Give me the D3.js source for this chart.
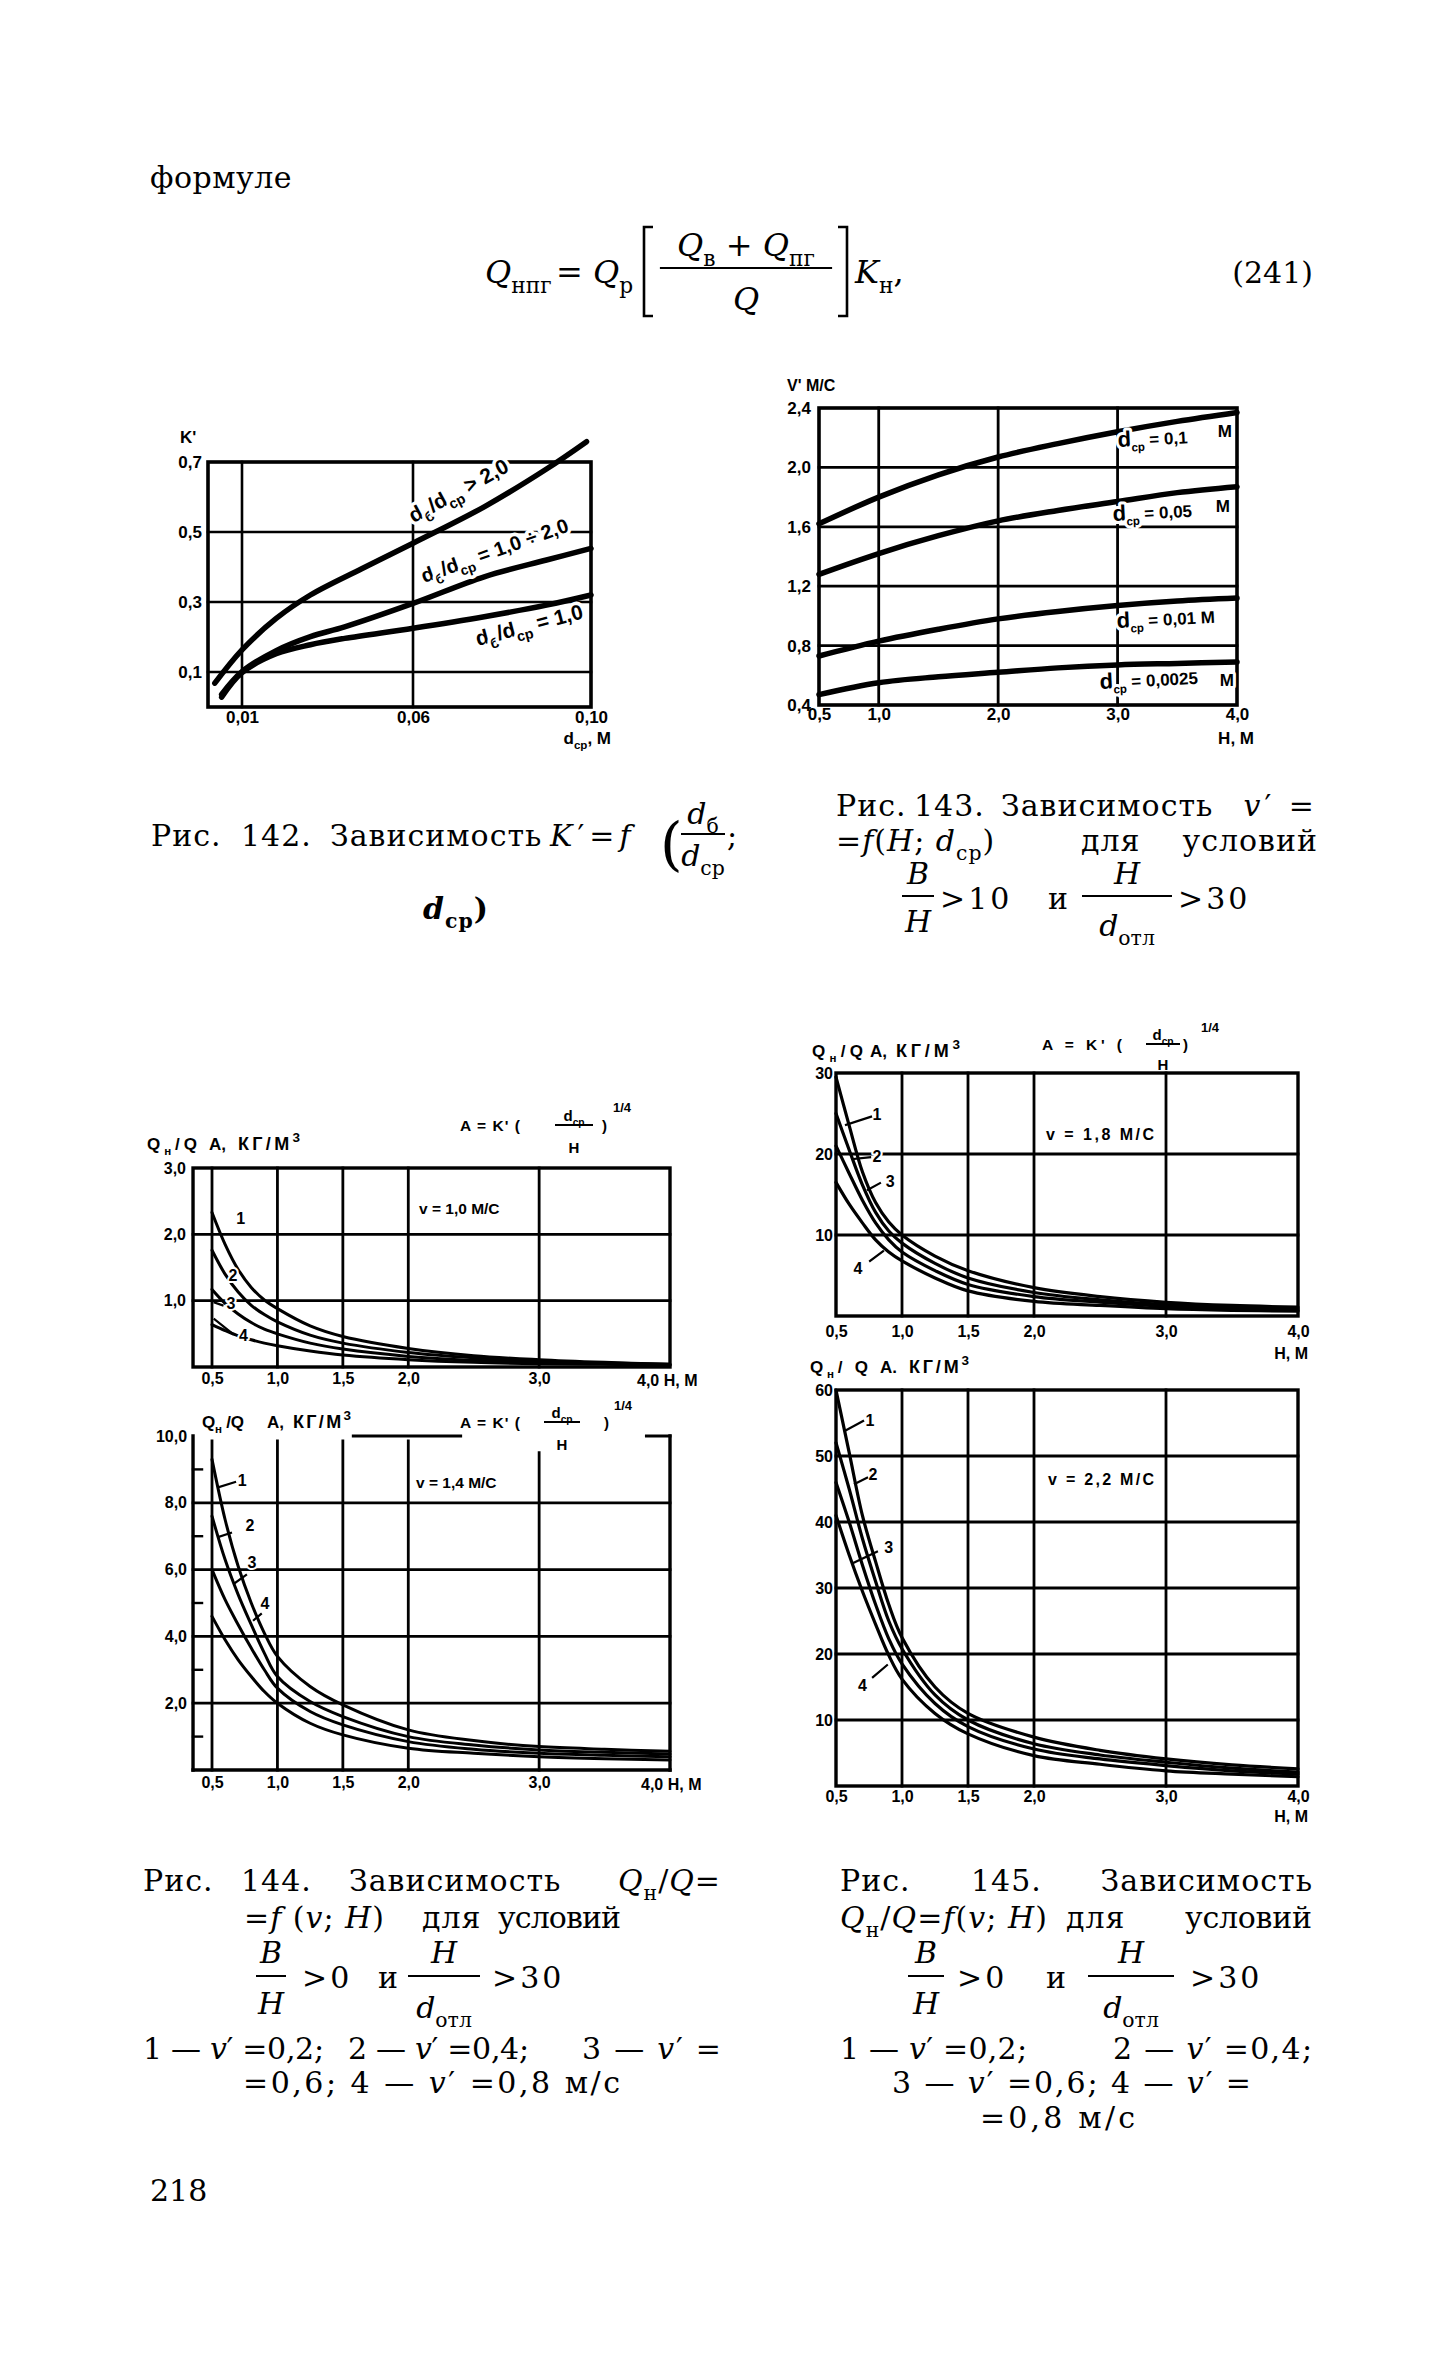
<!DOCTYPE html>
<html><head><meta charset="utf-8">
<script src="https://cdn.jsdelivr.net/npm/d3@7"></script>
<style>body{margin:0;background:#fff;} svg{display:block;}</style>
</head><body>
<script>
// ================= DATA =================
// Fig.142  K' = f(d_б/d_ср; d_ср)
const f142Xa = [0.002, 0.01, 0.02, 0.03, 0.045, 0.06, 0.076, 0.09, 0.099];
const f142Xb = [0.004, 0.01, 0.02, 0.03, 0.04, 0.06, 0.076, 0.09, 0.10];
const f142K1 = [0.068, 0.163, 0.253, 0.320, 0.395, 0.468, 0.572, 0.680, 0.758]; // dб/dср > 2,0
const f142K2 = [0.036, 0.101, 0.161, 0.201, 0.229, 0.296, 0.372, 0.420, 0.453]; // 1,0 ÷ 2,0
const f142K3 = [0.028, 0.098, 0.152, 0.178, 0.196, 0.225, 0.258, 0.291, 0.320]; // = 1,0
const f142YTicks = [0.1, 0.3, 0.5, 0.7];
const f142YLabels = ['0,1', '0,3', '0,5', '0,7'];
const f142XTicks = [0.01, 0.06, 0.10];
const f142XLabels = ['0,01', '0,06', '0,10'];

// Fig.143  v' = f(H; d_ср)
const f143H = [0.5, 1.0, 1.5, 2.0, 2.5, 3.0, 3.5, 4.0];
const f143V0100 = [1.62, 1.80, 1.95, 2.07, 2.16, 2.24, 2.31, 2.37];
const f143V0050 = [1.28, 1.42, 1.54, 1.64, 1.71, 1.77, 1.83, 1.87];
const f143V0010 = [0.73, 0.83, 0.91, 0.98, 1.03, 1.07, 1.10, 1.12];
const f143V0025 = [0.47, 0.55, 0.59, 0.62, 0.65, 0.67, 0.68, 0.69];
const f143YTicks = [0.4, 0.8, 1.2, 1.6, 2.0, 2.4];
const f143YLabels = ['0,4', '0,8', '1,2', '1,6', '2,0', '2,4'];
const f143XTicks = [0.5, 1, 2, 3, 4];
const f143XLabels = ['0,5', '1,0', '2,0', '3,0', '4,0'];

// Fig.144 / 145  Qн/Q = f(v; H), curves 1..4 (v' = 0,2; 0,4; 0,6; 0,8)
const qH = [0.5, 0.6, 0.7, 0.8, 0.9, 1.0, 1.25, 1.5, 2.0, 2.5, 3.0, 3.5, 4.0];
const f144a1 = [2.33, 1.85, 1.47, 1.20, 1.01, 0.88, 0.62, 0.46, 0.28, 0.17, 0.11, 0.07, 0.04];
const f144a2 = [1.76, 1.40, 1.13, 0.93, 0.79, 0.68, 0.48, 0.36, 0.22, 0.14, 0.09, 0.06, 0.04];
const f144a3 = [1.17, 0.96, 0.80, 0.67, 0.57, 0.50, 0.36, 0.27, 0.16, 0.10, 0.07, 0.05, 0.03];
const f144a4 = [0.64, 0.55, 0.47, 0.41, 0.36, 0.32, 0.24, 0.18, 0.11, 0.07, 0.05, 0.04, 0.02];
const f144b1 = [9.3, 7.5, 6.1, 5.0, 4.1, 3.4, 2.5, 1.95, 1.2, 0.88, 0.7, 0.62, 0.56];
const f144b2 = [7.6, 6.3, 5.25, 4.35, 3.5, 2.8, 2.05, 1.6, 1.0, 0.75, 0.6, 0.53, 0.48];
const f144b3 = [6.0, 5.1, 4.35, 3.65, 3.0, 2.45, 1.75, 1.35, 0.85, 0.62, 0.5, 0.44, 0.4];
const f144b4 = [4.6, 3.9, 3.3, 2.8, 2.35, 2.0, 1.4, 1.05, 0.65, 0.5, 0.4, 0.34, 0.3];
const f145a1 = [29.5, 23.5, 17.8, 14.0, 11.6, 10.0, 7.4, 5.6, 3.5, 2.4, 1.7, 1.3, 1.1];
const f145a2 = [25.0, 20.5, 16.2, 12.8, 10.5, 9.0, 6.5, 4.7, 2.9, 2.0, 1.4, 1.1, 0.9];
const f145a3 = [21.0, 17.6, 14.3, 11.5, 9.4, 7.9, 5.6, 3.9, 2.4, 1.7, 1.2, 0.9, 0.7];
const f145a4 = [16.5, 13.8, 11.5, 9.4, 7.9, 6.8, 4.7, 3.1, 1.8, 1.3, 0.9, 0.7, 0.6];
const f145b1 = [60.0, 50.5, 41.0, 34.0, 27.5, 22.5, 15.0, 11.0, 7.4, 5.4, 4.1, 3.2, 2.6];
const f145b2 = [52.0, 45.0, 37.5, 31.0, 25.0, 20.8, 13.8, 10.0, 6.4, 4.7, 3.6, 2.7, 2.1];
const f145b3 = [46.0, 40.0, 33.5, 27.5, 22.3, 18.5, 12.5, 9.0, 5.6, 4.1, 3.1, 2.3, 1.8];
const f145b4 = [41.0, 35.0, 29.5, 24.5, 19.8, 16.2, 11.0, 7.9, 4.6, 3.3, 2.3, 1.8, 1.4];
const hTicks = [0.5, 1.0, 1.5, 2.0, 3.0, 4.0];
const hLabels = ['0,5', '1,0', '1,5', '2,0', '3,0', '4,0'];
const f144aYTicks = [1, 2, 3];   const f144aYLabels = ['1,0', '2,0', '3,0'];
const f144bYTicks = [2, 4, 6, 8, 10]; const f144bYLabels = ['2,0', '4,0', '6,0', '8,0', '10,0'];
const f144bMinor = [1, 3, 5, 7, 9];
const f145aYTicks = [10, 20, 30]; const f145aYLabels = ['10', '20', '30'];
const f145bYTicks = [10, 20, 30, 40, 50, 60]; const f145bYLabels = ['10', '20', '30', '40', '50', '60'];

// ================= HELPERS =================
const SANS = "'Liberation Sans', Arial, sans-serif";
const SERIF = "'DejaVu Serif', 'Liberation Serif', serif";
const svg = d3.select('body').append('svg').attr('width', 1452).attr('height', 2362)
  .style('background', '#fff');
svg.append('rect').attr('width', 1452).attr('height', 2362).attr('fill', '#fff');
const SMOOTH = d3.curveCatmullRom.alpha(0.5);

function rich(parent, x, y, parts, o = {}) {
  const size = o.size || 29;
  const t = parent.append('text').attr('x', x).attr('y', y)
    .attr('font-family', o.font || SERIF).attr('font-size', size)
    .attr('text-anchor', o.anchor || 'start').attr('fill', '#000')
    .attr('xml:space', 'preserve').style('white-space', 'pre');
  if (o.bold) t.attr('font-weight', 'bold');
  if (o.italic) t.attr('font-style', 'italic');
  if (o.ls) t.attr('letter-spacing', o.ls);
  if (o.len) t.attr('textLength', o.len).attr('lengthAdjust', 'spacing');
  if (o.halo) t.attr('stroke', '#fff').attr('stroke-width', o.halo)
    .attr('paint-order', 'stroke').attr('stroke-linejoin', 'round');
  if (o.rotate) t.attr('transform', `rotate(${o.rotate},${x},${y})`);
  let shift = 0;
  parts.forEach(p => {
    if (typeof p === 'string') p = { t: p };
    const s = p.sub ? size * 0.3 : (p.sup ? -size * 0.42 : 0);
    const ts = t.append('tspan').text(p.t).attr('dy', s - shift);
    shift = s;
    if (p.sub || p.sup) ts.attr('font-size', size * (p.scale || 0.68));
    if (p.size) ts.attr('font-size', p.size);
    if (p.i) ts.attr('font-style', 'italic');
    if (p.n) ts.attr('font-style', 'normal');
    if (p.b) ts.attr('font-weight', 'bold');
  });
  return t;
}
function seg(parent, x1, y1, x2, y2, w) {
  parent.append('line').attr('x1', x1).attr('y1', y1).attr('x2', x2).attr('y2', y2)
    .attr('stroke', '#000').attr('stroke-width', w).attr('stroke-linecap', 'square');
}
function boxRect(parent, x1, y1, x2, y2, w) {
  parent.append('rect').attr('x', x1).attr('y', y1).attr('width', x2 - x1).attr('height', y2 - y1)
    .attr('fill', 'none').attr('stroke', '#000').attr('stroke-width', w);
}
function curve(parent, x, y, xs, ys, w, c) {
  const ln = d3.line().x((d, i) => x(xs[i])).y(d => y(d)).curve(c || SMOOTH);
  parent.append('path').attr('d', ln(ys)).attr('fill', 'none').attr('stroke', '#000')
    .attr('stroke-width', w).attr('stroke-linejoin', 'round').attr('stroke-linecap', 'round');
}
function styleAxis(ag, size) {
  ag.select('.domain').remove();
  ag.selectAll('text').attr('font-family', SANS).attr('font-size', size)
    .attr('font-weight', 'bold').attr('fill', '#000');
}
function yLabels(parent, y, xPix, vals, labels, size, pad) {
  const a = d3.axisLeft(y).tickValues(vals).tickFormat((d, i) => labels[i]).tickSize(0).tickPadding(pad);
  styleAxis(parent.append('g').attr('transform', `translate(${xPix},0)`).call(a), size);
}
function xLabels(parent, x, yPix, vals, labels, size, pad) {
  const a = d3.axisBottom(x).tickValues(vals).tickFormat((d, i) => labels[i]).tickSize(0).tickPadding(pad);
  styleAxis(parent.append('g').attr('transform', `translate(0,${yPix})`).call(a), size);
}
function frac(parent, cx, yl, num, den, o) {
  const oo = Object.assign({}, o, { anchor: 'middle' });
  delete oo.len; delete oo.ls;
  rich(parent, cx, yl - o.up, num, oo);
  rich(parent, cx, yl + o.down, den, oo);
  seg(parent, cx - o.w / 2, yl, cx + o.w / 2, yl, o.lw || 2);
}
const LAB = { font: SANS, bold: 1, size: 16 };
const L = (extra) => Object.assign({}, LAB, extra || {});
// axis title "Qн/Q  A, КГ/М³" in three pieces
function yTitle(g, y, p1, x1, len1, p2, x2, x3, len3) {
  rich(g, x1, y, ['Q', { t: 'н', sub: 1 }, p1], L({ size: 17, len: len1 }));
  rich(g, x2, y, [p2], L({ size: 17 }));
  rich(g, x3, y, ['КГ/М', { t: '3', sup: 1, scale: 0.75 }], L({ size: 18, len: len3 }));
}

// ================= PAGE TEXT =================
const page = svg.append('g');
rich(page, 150, 188, ['формуле'], { size: 30, ls: 0.5 });
rich(page, 485, 283, [{ t: 'Q', i: 1 }, { t: 'нпг', sub: 1 }], { size: 32 });
rich(page, 556, 283, ['= ', { t: 'Q', i: 1 }, { t: 'р', sub: 1 }], { size: 32 });
page.append('path').attr('d', 'M653,227 H644 V316 H653').attr('fill', 'none').attr('stroke', '#000').attr('stroke-width', 2.6);
page.append('path').attr('d', 'M838,227 H847 V316 H838').attr('fill', 'none').attr('stroke', '#000').attr('stroke-width', 2.6);
frac(page, 746, 268, [{ t: 'Q', i: 1 }, { t: 'в', sub: 1 }, ' + ', { t: 'Q', i: 1 }, { t: 'пг', sub: 1 }],
  [{ t: 'Q', i: 1 }], { size: 32, up: 12, down: 42, w: 170, lw: 2.2 });
rich(page, 855, 283, [{ t: 'K', i: 1 }, { t: 'н', sub: 1 }, ','], { size: 32 });
rich(page, 1313, 283, ['(241)'], { size: 30, anchor: 'end' });
rich(page, 150, 2201, ['218'], { size: 30 });

// ================= FIG 142 =================
const g142 = svg.append('g');
const x142 = d3.scaleLinear().domain([0, 0.01, 0.06, 0.10]).range([208, 242, 413, 591]);
const y142 = d3.scaleLinear().domain([0, 0.7]).range([707, 462]);
[0.1, 0.3, 0.5].forEach(v => seg(g142, x142(0), y142(v), x142(0.1), y142(v), 2.6));
[0.01, 0.06].forEach(v => seg(g142, x142(v), y142(0.7), x142(v), y142(0), 2.6));
boxRect(g142, x142(0), y142(0.7), x142(0.1), y142(0), 3.6);
const lab142 = svg.append('g');
rich(lab142, 462, 497, [{ t: 'd' }, { t: 'б', sub: 1 }, { t: '/d' }, { t: 'ср', sub: 1 }, ' > 2,0'],
  { font: SANS, bold: 1, size: 21, anchor: 'middle', rotate: -28.5, halo: 7 });
rich(lab142, 497, 557, [{ t: 'd' }, { t: 'б', sub: 1 }, { t: '/d' }, { t: 'ср', sub: 1 }, ' = 1,0 ÷ 2,0'],
  { font: SANS, bold: 1, size: 20, anchor: 'middle', rotate: -19.6, halo: 7 });
rich(lab142, 531, 632, [{ t: 'd' }, { t: 'б', sub: 1 }, { t: '/d' }, { t: 'ср', sub: 1 }, ' = 1,0'],
  { font: SANS, bold: 1, size: 21, anchor: 'middle', rotate: -14.7, halo: 7 });
curve(g142, x142, y142, f142Xa, f142K1, 5.5);
curve(g142, x142, y142, f142Xb, f142K2, 5.5);
curve(g142, x142, y142, f142Xb, f142K3, 5.5);
yLabels(g142, y142, x142(0), f142YTicks, f142YLabels, 17, 6);
xLabels(g142, x142, y142(0), f142XTicks, f142XLabels, 17, 4);
rich(g142, 180, 443, ["K'"], { font: SANS, bold: 1, size: 17 });
rich(g142, 611, 744, [{ t: 'd' }, { t: 'ср', sub: 1 }, ', М'], { font: SANS, bold: 1, size: 17, anchor: 'end' });

// ================= FIG 143 =================
const g143 = svg.append('g');
const x143 = d3.scaleLinear().domain([0.5, 4.0]).range([819, 1237]);
const y143 = d3.scaleLinear().domain([0.4, 2.4]).range([705, 408]);
[0.8, 1.2, 1.6, 2.0].forEach(v => seg(g143, x143(0.5), y143(v), x143(4), y143(v), 2.8));
[1, 2, 3].forEach(v => seg(g143, x143(v), y143(2.4), x143(v), y143(0.4), 2.8));
boxRect(g143, x143(0.5), y143(2.4), x143(4), y143(0.4), 3.6);
const lab143 = svg.append('g');
const l143 = (x, y, num) => {
  rich(lab143, x, y, [{ t: 'd', size: 22 }, { t: 'ср', sub: 1 }, ' = ' + num], { font: SANS, bold: 1, size: 17, halo: 6, rotate: -3 });
};
l143(1118, 447, '0,1'); rich(lab143, 1232, 437, ['М'], { font: SANS, bold: 1, size: 17, anchor: 'end', halo: 6 });
l143(1113, 521, '0,05'); rich(lab143, 1230, 512, ['М'], { font: SANS, bold: 1, size: 17, anchor: 'end', halo: 6 });
l143(1117, 628, '0,01 М');
l143(1100, 689, '0,0025'); rich(lab143, 1234, 686, ['М'], { font: SANS, bold: 1, size: 17, anchor: 'end', halo: 6 });
[f143V0100, f143V0050, f143V0010, f143V0025].forEach(s => curve(g143, x143, y143, f143H, s, 5.5));
yLabels(g143, y143, x143(0.5), f143YTicks, f143YLabels, 17, 8);
xLabels(g143, x143, y143(0.4), f143XTicks, f143XLabels, 17, 3);
rich(g143, 787, 391, ["V' М/С"], { font: SANS, bold: 1, size: 16 });
rich(g143, 1254, 744, ['Н, М'], { font: SANS, bold: 1, size: 17, anchor: 'end' });

// ================= FIG 144 (top: v = 1,0) =================
const x144 = d3.scaleLinear().domain([0.5, 4.0]).range([212, 670]);
const H144L = 0.355;
const y144a = d3.scaleLinear().domain([0, 3]).range([1367, 1168]);
const g144a = svg.append('g');
[1, 2].forEach(v => seg(g144a, x144(H144L), y144a(v), x144(4), y144a(v), 2.8));
[0.5, 1, 1.5, 2, 3].forEach(v => seg(g144a, x144(v), y144a(3), x144(v), y144a(0), 2.8));
boxRect(g144a, x144(H144L), y144a(3), x144(4), y144a(0), 3.4);
[f144a1, f144a2, f144a3, f144a4].forEach(s => curve(g144a, x144, y144a, qH, s, 3));
yLabels(g144a, y144a, x144(H144L), f144aYTicks, f144aYLabels, 16, 7);
xLabels(g144a, x144, y144a(0), hTicks.slice(0, 5), hLabels.slice(0, 5), 16, 6);
rich(g144a, 637, 1386, ['4,0 Н, М'], LAB);
const n144a = [['1', 0.72, 2.25], ['2', 0.66, 1.39], ['3', 0.645, 0.97], ['4', 0.74, 0.48]];
n144a.forEach(d => rich(g144a, x144(d[1]), y144a(d[2]) + 6, [d[0]], L({ anchor: 'middle', halo: 4 })));
seg(g144a, x144(0.52), y144a(0.72), x144(0.66), y144a(0.5), 2.2);
seg(g144a, x144(0.52), y144a(0.97), x144(0.58), y144a(0.93), 2.2);
rich(g144a, 419, 1214, ['v = 1,0 М/С'], L({ size: 15.5 }));
yTitle(g144a, 1150, '/Q', 147, 50, 'A,', 209, 238, 62);
rich(g144a, 460, 1131, ["A = K' ("], L({ size: 15.5, len: 60 }));
frac(g144a, 574, 1125, [{ t: 'd' }, { t: 'ср', sub: 1 }], [{ t: 'H' }], L({ size: 15, up: 4, down: 28, w: 36, lw: 2 }));
rich(g144a, 602, 1131, [')'], L({ size: 15 }));
rich(g144a, 613, 1112, ['1/4'], L({ size: 13 }));

// ================= FIG 144 (bottom: v = 1,4) =================
const y144b = d3.scaleLinear().domain([0, 10]).range([1770, 1436]);
const g144b = svg.append('g');
[2, 4, 6, 8].forEach(v => seg(g144b, x144(H144L), y144b(v), x144(4), y144b(v), 2.8));
[0.5, 1, 1.5, 2].forEach(v => seg(g144b, x144(v), y144b(9.85), x144(v), y144b(0), 2.8));
seg(g144b, x144(3), y144b(9.5), x144(3), y144b(0), 2.8);
seg(g144b, x144(H144L), y144b(10), x144(H144L), y144b(0), 3.4);
seg(g144b, x144(4), y144b(10), x144(4), y144b(0), 3.4);
seg(g144b, x144(H144L), y144b(0), x144(4), y144b(0), 3.4);
seg(g144b, x144(1.58), y144b(10), x144(2.40), y144b(10), 3.0);
seg(g144b, x144(3.82), y144b(10), x144(4), y144b(10), 3.0);
f144bMinor.forEach(v => seg(g144b, x144(H144L), y144b(v), x144(H144L) + 9, y144b(v), 2.4));
[f144b1, f144b2, f144b3, f144b4].forEach(s => curve(g144b, x144, y144b, qH, s, 3));
yLabels(g144b, y144b, x144(H144L), f144bYTicks, f144bYLabels, 16, 6);
xLabels(g144b, x144, y144b(0), hTicks.slice(0, 5), hLabels.slice(0, 5), 16, 7);
rich(g144b, 641, 1790, ['4,0 Н, М'], LAB);
const n144b = [['1', 0.73, 8.68], ['2', 0.79, 7.33], ['3', 0.806, 6.23], ['4', 0.905, 5.0]];
n144b.forEach(d => rich(g144b, x144(d[1]), y144b(d[2]) + 6, [d[0]], L({ anchor: 'middle', halo: 4 })));
const lead144b = [[0.553, 8.47, 0.676, 8.62], [0.553, 6.98, 0.645, 7.1], [0.676, 5.6, 0.76, 5.84], [0.82, 4.49, 0.874, 4.67]];
lead144b.forEach(d => seg(g144b, x144(d[0]), y144b(d[1]), x144(d[2]), y144b(d[3]), 2.2));
rich(g144b, 416, 1488, ['v = 1,4 М/С'], L({ size: 15.5 }));
yTitle(g144b, 1428, ' /Q', 202, 42, 'A,', 267, 293, 58);
rich(g144b, 460, 1428, ["A = K' ("], L({ size: 15.5, len: 60 }));
frac(g144b, 562, 1422, [{ t: 'd' }, { t: 'ср', sub: 1 }], [{ t: 'H' }], L({ size: 15, up: 4, down: 28, w: 34, lw: 2 }));
rich(g144b, 604, 1428, [')'], L({ size: 15 }));
rich(g144b, 614, 1410, ['1/4'], L({ size: 13 }));

// ================= FIG 145 (top: v = 1,8) =================
const x145 = d3.scaleLinear().domain([0.5, 4.0]).range([836, 1298]);
const y145a = d3.scaleLinear().domain([0, 30]).range([1316, 1073]);
const g145a = svg.append('g');
[10, 20].forEach(v => seg(g145a, x145(0.5), y145a(v), x145(4), y145a(v), 2.8));
[1, 1.5, 2, 3].forEach(v => seg(g145a, x145(v), y145a(30), x145(v), y145a(0), 2.8));
boxRect(g145a, x145(0.5), y145a(30), x145(4), y145a(0), 3.4);
[f145a1, f145a2, f145a3, f145a4].forEach(s => curve(g145a, x145, y145a, qH, s, 3.2));
yLabels(g145a, y145a, x145(0.5), f145aYTicks, f145aYLabels, 16, 3);
xLabels(g145a, x145, y145a(0), hTicks, hLabels, 16, 10);
rich(g145a, 1308, 1359, ['Н, М'], L({ anchor: 'end' }));
const n145a = [['1', 0.81, 25], ['2', 0.81, 19.75], ['3', 0.91, 16.7], ['4', 0.667, 5.9]];
n145a.forEach(d => rich(g145a, x145(d[1]), y145a(d[2]) + 6, [d[0]], L({ anchor: 'middle', halo: 4 })));
const lead145a = [[0.576, 23.6, 0.765, 24.6], [0.644, 19.4, 0.758, 19.6], [0.742, 15.6, 0.833, 16.4], [0.758, 6.8, 0.856, 8.0]];
lead145a.forEach(d => seg(g145a, x145(d[0]), y145a(d[1]), x145(d[2]), y145a(d[3]), 2.2));
rich(g145a, 1046, 1140, ['v = 1,8 М/С'], L({ len: 108 }));
yTitle(g145a, 1057, '/Q', 812, 51, 'A,', 870, 896, 64);
rich(g145a, 1042, 1050, ["A = K' ("], L({ size: 15.5, len: 80 }));
frac(g145a, 1163, 1044, [{ t: 'd' }, { t: 'ср', sub: 1 }], [{ t: 'H' }], L({ size: 15, up: 4, down: 26, w: 32, lw: 2 }));
rich(g145a, 1183, 1050, [')'], L({ size: 15 }));
rich(g145a, 1201, 1032, ['1/4'], L({ size: 13 }));

// ================= FIG 145 (bottom: v = 2,2) =================
const y145b = d3.scaleLinear().domain([0, 60]).range([1786, 1390]);
const g145b = svg.append('g');
[10, 20, 30, 40, 50].forEach(v => seg(g145b, x145(0.5), y145b(v), x145(4), y145b(v), 2.8));
[1, 1.5, 2, 3].forEach(v => seg(g145b, x145(v), y145b(60), x145(v), y145b(0), 2.8));
boxRect(g145b, x145(0.5), y145b(60), x145(4), y145b(0), 3.4);
[f145b1, f145b2, f145b3, f145b4].forEach(s => curve(g145b, x145, y145b, qH, s, 3.2));
yLabels(g145b, y145b, x145(0.5), f145bYTicks, f145bYLabels, 16, 3);
xLabels(g145b, x145, y145b(0), hTicks, hLabels, 16, 5);
rich(g145b, 1308, 1822, ['Н, М'], L({ anchor: 'end' }));
const n145b = [['1', 0.758, 55.5], ['2', 0.78, 47.3], ['3', 0.90, 36.2], ['4', 0.70, 15.3]];
n145b.forEach(d => rich(g145b, x145(d[1]), y145b(d[2]) + 6, [d[0]], L({ anchor: 'middle', halo: 4 })));
const lead145b = [[0.576, 53.9, 0.705, 55.3], [0.644, 45.8, 0.735, 46.7], [0.63, 33.8, 0.81, 35.5], [0.78, 16.5, 0.886, 18.3]];
lead145b.forEach(d => seg(g145b, x145(d[0]), y145b(d[1]), x145(d[2]), y145b(d[3]), 2.2));
rich(g145b, 1048, 1485, ['v = 2,2 М/С'], L({ len: 106 }));
yTitle(g145b, 1373, '/ Q', 810, 58, 'A.', 880, 909, 60);

// ================= CAPTIONS =================
const cap = svg.append('g');
const CS = 30;
const C = (extra) => Object.assign({ size: CS, ls: 1 }, extra || {});
// Fig 142
rich(cap, 151, 846, ['Рис.'], C());
rich(cap, 241, 846, ['142.'], C());
rich(cap, 330, 846, ['Зависимость'], C());
rich(cap, 550, 846, [{ t: 'K', i: 1 }, "′=", { t: 'f', i: 1 }], C({ ls: 5 }));
rich(cap, 660, 864, ['('], { size: 58 });
frac(cap, 703, 834, [{ t: 'd', i: 1 }, { t: 'б', sub: 1, n: 1 }], [{ t: 'd', i: 1 }, { t: 'ср', sub: 1, n: 1 }], { size: CS, up: 10, down: 32, w: 42, lw: 2 });
rich(cap, 727, 846, [';'], C());
rich(cap, 423, 919, [{ t: 'd', i: 1 }, { t: 'ср', sub: 1 }, ')'], C({ bold: 1 }));
// Fig 143
rich(cap, 836, 816, ['Рис.'], C());
rich(cap, 914, 816, ['143.'], C());
rich(cap, 1001, 816, ['Зависимость'], C());
rich(cap, 1318, 816, [{ t: 'v', i: 1 }, "′ ="], C({ anchor: 'end', ls: 4 }));
rich(cap, 836, 851, ['=', { t: 'f', i: 1 }, '(', { t: 'H', i: 1 }, '; ', { t: 'd', i: 1 }, { t: 'ср', sub: 1 }, ')'], C());
rich(cap, 1081, 851, ['для'], C());
rich(cap, 1318, 851, ['условий'], C({ anchor: 'end' }));
frac(cap, 918, 896, [{ t: 'B', i: 1 }], [{ t: 'H', i: 1 }], { size: CS, up: 12, down: 36, w: 30, lw: 2 });
rich(cap, 940, 909, ['>10'], C({ ls: 3 }));
rich(cap, 1048, 909, ['и'], C());
frac(cap, 1127, 896, [{ t: 'H', i: 1 }], [{ t: 'd', i: 1 }, { t: 'отл', sub: 1 }], { size: CS, up: 12, down: 40, w: 88, lw: 2 });
rich(cap, 1178, 909, ['>30'], C({ ls: 3 }));
// Fig 144
rich(cap, 143, 1891, ['Рис.'], C());
rich(cap, 241, 1891, ['144.'], C());
rich(cap, 349, 1891, ['Зависимость'], C());
rich(cap, 721, 1891, [{ t: 'Q', i: 1 }, { t: 'н', sub: 1 }, '/', { t: 'Q', i: 1 }, '='], C({ anchor: 'end' }));
rich(cap, 244, 1928, ['=', { t: 'f', i: 1 }, ' (', { t: 'v', i: 1 }, '; ', { t: 'H', i: 1 }, ')'], C());
rich(cap, 422, 1928, ['для'], C());
rich(cap, 498, 1928, ['условий'], C({ len: 124 }));
frac(cap, 271, 1976, [{ t: 'B', i: 1 }], [{ t: 'H', i: 1 }], { size: CS, up: 13, down: 38, w: 28, lw: 2 });
rich(cap, 302, 1988, ['>0'], C({ ls: 3 }));
rich(cap, 378, 1988, ['и'], C());
frac(cap, 444, 1976, [{ t: 'H', i: 1 }], [{ t: 'd', i: 1 }, { t: 'отл', sub: 1 }], { size: CS, up: 13, down: 42, w: 70, lw: 2 });
rich(cap, 492, 1988, ['>30'], C({ ls: 3 }));
rich(cap, 143, 2059, ['1 — ', { t: 'v', i: 1 }, '′ =0,2;'], C({ len: 182 }));
rich(cap, 348, 2059, ['2 — ', { t: 'v', i: 1 }, '′ =0,4;'], C({ len: 182 }));
rich(cap, 722, 2059, ['3 — ', { t: 'v', i: 1 }, '′ ='], C({ anchor: 'end', len: 140 }));
rich(cap, 243, 2093, ['=0,6; 4 — ', { t: 'v', i: 1 }, '′ =0,8 м/с'], C({ len: 378 }));
// Fig 145
rich(cap, 840, 1891, ['Рис.'], C());
rich(cap, 971, 1891, ['145.'], C());
rich(cap, 1313, 1891, ['Зависимость'], C({ anchor: 'end' }));
rich(cap, 840, 1928, [{ t: 'Q', i: 1 }, { t: 'н', sub: 1 }, '/', { t: 'Q', i: 1 }, '=', { t: 'f', i: 1 }, '(', { t: 'v', i: 1 }, '; ', { t: 'H', i: 1 }, ')'], C({ len: 208 }));
rich(cap, 1066, 1928, ['для'], C());
rich(cap, 1185, 1928, ['условий'], C({ len: 128 }));
frac(cap, 926, 1976, [{ t: 'B', i: 1 }], [{ t: 'H', i: 1 }], { size: CS, up: 13, down: 38, w: 34, lw: 2 });
rich(cap, 957, 1988, ['>0'], C({ ls: 3 }));
rich(cap, 1046, 1988, ['и'], C());
frac(cap, 1131, 1976, [{ t: 'H', i: 1 }], [{ t: 'd', i: 1 }, { t: 'отл', sub: 1 }], { size: CS, up: 13, down: 42, w: 84, lw: 2 });
rich(cap, 1190, 1988, ['>30'], C({ ls: 3 }));
rich(cap, 840, 2059, ['1 — ', { t: 'v', i: 1 }, '′ =0,2;'], C({ len: 188 }));
rich(cap, 1313, 2059, ['2 — ', { t: 'v', i: 1 }, '′ =0,4;'], C({ anchor: 'end', len: 200 }));
rich(cap, 892, 2093, ['3 — ', { t: 'v', i: 1 }, '′ =0,6; 4 — ', { t: 'v', i: 1 }, '′ ='], C({ len: 360 }));
rich(cap, 980, 2128, ['=0,8 м/с'], C({ len: 156 }));
</script>
</body></html>
